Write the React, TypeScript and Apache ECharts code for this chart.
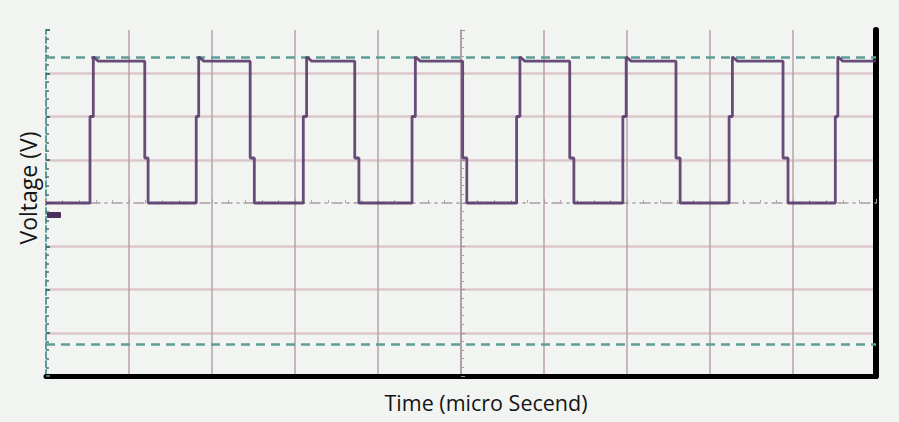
import React, { useEffect, useRef } from "react";
import * as echarts from "echarts";

// Time in graticule divisions (0..10), voltage in divisions (-4..4)
const riseStart = [0.53, 1.81, 3.1, 4.41, 5.67, 6.95, 8.23, 9.51];
const riseTop = [0.57, 1.84, 3.14, 4.45, 5.71, 6.99, 8.27, 9.54];
const fallStart = [1.19, 2.46, 3.72, 5.02, 6.31, 7.59, 8.88];
const fallBottom = [1.23, 2.51, 3.77, 5.07, 6.36, 7.64, 8.94];
const LOW = 0;
const HIGH = 3.28;
const PEAK = 3.38;
const RISE_STEP = 2.0;
const FALL_STEP = 1.04;
const cursorLevels = [3.38, -3.26];
const xTicks = [0, 1, 2, 3, 4, 5, 6, 7, 8, 9, 10];
const yTicks = [-4, -3, -2, -1, 0, 1, 2, 3, 4];

const buildWave = () => {
  const pts: number[][] = [[0, LOW]];
  for (let i = 0; i < riseStart.length; i++) {
    pts.push([riseStart[i], LOW], [riseStart[i], RISE_STEP], [riseTop[i], RISE_STEP], [riseTop[i], PEAK], [riseTop[i] + 0.06, HIGH]);
    if (i < fallStart.length) {
      pts.push([fallStart[i], HIGH], [fallStart[i], FALL_STEP], [fallBottom[i], FALL_STEP], [fallBottom[i], LOW]);
    } else {
      pts.push([10, HIGH]);
    }
  }
  return pts;
};

const BG = "#f2f4f1";
const PINK = "#dcc7cb";
const MAUVE = "#b9a2a9";
const TEAL = "#5f9d99";
const TRACE = "#583a6a";

export default function App() {
  const ref = useRef<HTMLDivElement>(null);
  useEffect(() => {
    document.body.style.margin = "0";
    const chart = echarts.init(ref.current!, null, { renderer: "svg" });
    const xSplit = xTicks.map((t) => (t === 0 || t === 10 ? "transparent" : MAUVE));
    const ySplit = yTicks.map((t) => (t === -4 || t === 0 || t === 4 ? "transparent" : PINK));
    chart.setOption({
      animation: false,
      backgroundColor: BG,
      grid: { left: 46, right: 23, top: 30, bottom: 46 },
      xAxis: [
        {
          type: "value", min: 0, max: 10, interval: 1,
          axisLabel: { show: false }, axisTick: { show: false },
          axisLine: { show: true, onZero: false, lineStyle: { color: "#000", width: 5 } },
          splitLine: { show: true, lineStyle: { color: xSplit, width: 1.5 } },
        },
        {
          type: "value", min: 0, max: 10, interval: 1, position: "bottom", offset: -173,
          axisLabel: { show: false },
          axisLine: { show: true, onZero: false, lineStyle: { color: "#a99aa3", width: 1.5, type: [10, 5, 2, 5] } },
          axisTick: { show: true, inside: true, length: 4, lineStyle: { color: "#a99aa3" } },
          minorTick: { show: true, splitNumber: 5, length: 3, lineStyle: { color: "#b3a6ad" } },
          splitLine: { show: false },
        },
      ],
      yAxis: [
        {
          type: "value", min: -4, max: 4, interval: 1,
          axisLabel: { show: false },
          axisLine: { show: true, onZero: false, lineStyle: { color: TEAL, width: 2, type: [6, 3] } },
          axisTick: { show: true, inside: true, length: 4, lineStyle: { color: "#3f7774", width: 2 } },
          minorTick: { show: true, splitNumber: 5, length: 3, lineStyle: { color: "#3f7774", width: 1.5 } },
          splitLine: { show: true, lineStyle: { color: ySplit, width: 2.5 } },
        },
        {
          type: "value", min: -4, max: 4, interval: 1, position: "right",
          axisLabel: { show: false }, axisTick: { show: false }, splitLine: { show: false },
          axisLine: { show: true, onZero: false, lineStyle: { color: "#000", width: 6 } },
        },
        {
          type: "value", min: -4, max: 4, interval: 1, position: "left", offset: -415,
          axisLabel: { show: false }, splitLine: { show: false },
          axisLine: { show: true, onZero: false, lineStyle: { color: "#a99aa3", width: 1.5 } },
          axisTick: { show: true, inside: true, length: 4, lineStyle: { color: "#9d8e97" } },
          minorTick: { show: true, splitNumber: 5, length: 3, lineStyle: { color: "#a99aa3" } },
        },
      ],
      series: [
        {
          type: "line", data: [], silent: true,
          markLine: {
            silent: true, symbol: "none", label: { show: false },
            lineStyle: { color: TEAL, width: 2.5, type: [9, 6] },
            data: cursorLevels.map((v) => ({ yAxis: v })),
          },
        },
        {
          type: "line", data: buildWave(), showSymbol: false, z: 5,
          lineStyle: { color: TRACE, width: 2.8, opacity: 0.9 },
        },
      ],
      graphic: [
        { type: "rect", shape: { x: 47, y: 212, width: 14, height: 6, r: 1 }, style: { fill: "#4a2e5c" } },
        {
          type: "text", x: 28, y: 188, rotation: Math.PI / 2,
          style: { text: "Voltage (V)", fontFamily: "Open Sans", fontSize: 23, fill: "#141414", align: "center", verticalAlign: "middle" },
        },
        {
          type: "text", x: 486, y: 402,
          style: { text: "Time (micro Secend)", fontFamily: "Open Sans", fontSize: 21.5, fill: "#141414", align: "center", verticalAlign: "middle" },
        },
      ],
    });
    return () => chart.dispose();
  }, []);
  return <div ref={ref} style={{ position: "absolute", left: 0, top: 0, width: 899, height: 422 }} />;
}
